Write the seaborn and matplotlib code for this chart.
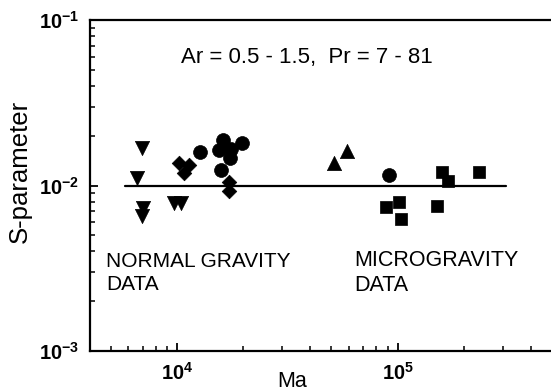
import matplotlib
matplotlib.use("Agg")
import matplotlib.pyplot as plt
import matplotlib.ticker as mticker
import seaborn as sns
import pandas as pd
import numpy as np

# ---- data ----
tri_down_ma = [6960, 6570, 7040, 6920, 9720, 10420]
tri_down_s = [0.0169, 0.0111, 0.0073, 0.0065, 0.0078, 0.0078]

diamond_ma = [10210, 11330, 10760, 17250, 17250]
diamond_s = [0.0137, 0.0133, 0.0119, 0.0105, 0.0092]

circle_ng_ma = [12710, 16200, 15540, 17550, 19630, 17370, 15770]
circle_ng_s = [0.0160, 0.0188, 0.0164, 0.0166, 0.0180, 0.0146, 0.0124]

tri_up_ma = [59200, 51500]
tri_up_s = [0.0162, 0.0136]

circle_mg_ma = [91300]
circle_mg_s = [0.0116]

square_ma = [159300, 168900, 233300, 88230, 101400, 150600, 103900]
square_s = [0.0120, 0.0107, 0.0121, 0.0074, 0.0079, 0.0075, 0.0063]

line_ma = [5800, 310000]
line_s = [0.01, 0.01]

x_ticks = [1e4, 1e5]
x_ticklabels = [r"$\mathbf{10^{4}}$", r"$\mathbf{10^{5}}$"]
y_ticks = [1e-3, 1e-2, 1e-1]
y_ticklabels = [r"$\mathbf{10^{-3}}$", r"$\mathbf{10^{-2}}$", r"$\mathbf{10^{-1}}$"]

sns.set_theme(style="white")
plt.rcParams["font.family"] = ["Liberation Sans", "DejaVu Sans"]
plt.rcParams["mathtext.fontset"] = "custom"
plt.rcParams["mathtext.rm"] = "Liberation Sans"
plt.rcParams["mathtext.bf"] = "Liberation Sans:bold"
plt.rcParams["mathtext.default"] = "regular"

fig = plt.figure(figsize=(5.51, 3.91), dpi=100)
ax = fig.add_axes([90/551, 40/391, 460/551, 331/391])

groups = [
    (tri_down_ma, tri_down_s, "v", 105),
    (diamond_ma, diamond_s, "D", 55),
    (circle_ng_ma, circle_ng_s, "o", 100),
    (tri_up_ma, tri_up_s, "^", 105),
    (circle_mg_ma, circle_mg_s, "o", 100),
    (square_ma, square_s, "s", 85),
]
for xs, ys, m, s in groups:
    df = pd.DataFrame({"Ma": xs, "S": ys})
    sns.scatterplot(data=df, x="Ma", y="S", marker=m, s=s, color="black",
                    edgecolor="black", linewidth=0.5, ax=ax, zorder=3)

sns.lineplot(x=line_ma, y=line_s, color="black", linewidth=1.6, ax=ax, zorder=2)

ax.set_xscale("log")
ax.set_yscale("log")
ax.set_xlim(4035, 4.9e5)
ax.set_ylim(1e-3, 1e-1)

ax.set_xticks(x_ticks)
ax.set_xticklabels(x_ticklabels)
ax.xaxis.set_minor_locator(mticker.LogLocator(base=10, subs=np.arange(2, 10), numticks=20))
ax.xaxis.set_minor_formatter(mticker.NullFormatter())
ax.set_yticks(y_ticks)
ax.set_yticklabels(y_ticklabels)
ax.yaxis.set_minor_locator(mticker.LogLocator(base=10, subs=np.arange(2, 10), numticks=20))
ax.yaxis.set_minor_formatter(mticker.NullFormatter())

ax.tick_params(axis="both", which="major", direction="in", length=6, width=1.3,
               color="black", labelsize=14.5, labelcolor="black")
ax.tick_params(axis="both", which="minor", direction="in", length=3.5, width=1.1, color="black")
ax.tick_params(axis="x", which="both", top=False, bottom=True, pad=8)
ax.tick_params(axis="y", which="both", left=True, right=False, pad=8)

for side in ["left", "bottom", "top"]:
    ax.spines[side].set_visible(True)
    ax.spines[side].set_color("black")
    ax.spines[side].set_linewidth(1.6)
ax.spines["right"].set_visible(False)

ax.set_xlabel("Ma", fontsize=15.5, color="black")
ax.xaxis.set_label_coords((292-90)/460, -0.06)
ax.set_ylabel("S-parameter", fontsize=18.5, color="black")
ax.yaxis.set_label_coords((32-90)/460, 0.541)

ax.text((307-90)/460, (391-57-40)/331, "Ar = 0.5 - 1.5,  Pr = 7 - 81",
        transform=ax.transAxes, ha="center", va="center", fontsize=16, color="black")
ax.text((106-90)/460, (391-273-40)/331, "NORMAL GRAVITY\nDATA",
        transform=ax.transAxes, ha="left", va="center", fontsize=15, color="black",
        linespacing=1.3)
ax.text((354-90)/460, (391-273-40)/331, "MICROGRAVITY\nDATA",
        transform=ax.transAxes, ha="left", va="center", fontsize=15.5, color="black",
        linespacing=1.27)

ax.grid(False)
fig.savefig("out.png", dpi=100, facecolor="white")
